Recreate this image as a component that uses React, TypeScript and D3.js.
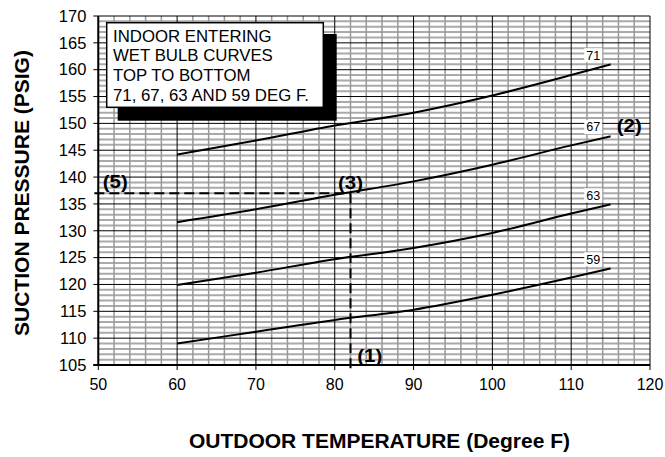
import * as d3 from "d3";

// outdoor temperature (F) where the curves were read
const temps = [60, 70, 80, 90, 100, 110, 115];

// suction pressure (psig) per indoor wet bulb curve
const wb71 = [144.2, 146.8, 149.6, 152.0, 155.2, 159.0, 161.0];
const wb67 = [131.6, 134.0, 136.7, 139.2, 142.3, 145.9, 147.6];
const wb63 = [119.9, 122.2, 124.7, 126.8, 129.6, 133.2, 134.9];
const wb59 = [109.0, 111.2, 113.4, 115.3, 118.1, 121.3, 123.0];

const curveNames = ["71", "67", "63", "59"];
const curveValues = [wb71, wb67, wb63, wb59];

const xTicks = [50, 60, 70, 80, 90, 100, 110, 120];
const yTicks = [105, 110, 115, 120, 125, 130, 135, 140, 145, 150, 155, 160, 165, 170];

const legendLines = [
  "INDOOR ENTERING",
  "WET BULB CURVES",
  "TOP TO BOTTOM",
  "71, 67, 63 AND 59 DEG F.",
];

// worked example: outdoor temp (1) -> curve (3) -> pressure (5)
const exampleTemp = 82;
const examplePsig = 137;

const W = 665, H = 457;
const font = "Arial, 'Liberation Sans', sans-serif";

// the reference text is a touch wider than plain Arial
function WideText({ x, y, sx = 1.05, children, ...rest }: any) {
  return (
    <text transform={`translate(${x},${y}) scale(${sx},1)`} {...rest}>{children}</text>
  );
}

export default function App() {
  const x = d3.scaleLinear().domain([50, 120]).range([98.3, 650]);
  const y = d3.scaleLinear().domain([105, 170]).range([365, 16]);

  const minorX = d3.range(50, 121, 2);
  const minorY = d3.range(105, 171, 1);

  const line = d3.line<[number, number]>()
    .x(d => x(d[0]))
    .y(d => y(d[1]))
    .curve(d3.curveMonotoneX);

  const [x0, x1] = x.range();
  const [yb, yt] = y.range();

  return (
    <svg width={W} height={H} style={{ position: "absolute", left: 0, top: 0, background: "#fff" }}
      fontFamily={font}>
      {/* minor grid */}
      {minorY.filter(v => v % 5 !== 0).map(v => (
        <line key={"hy" + v} x1={x0} x2={x1} y1={y(v)} y2={y(v)} stroke="#aaa" strokeWidth={2} />
      ))}
      {minorX.filter(v => v % 10 !== 0).map(v => (
        <line key={"vx" + v} x1={x(v)} x2={x(v)} y1={yt} y2={yb} stroke="#999" strokeWidth={1.5} />
      ))}
      {/* major grid */}
      {yTicks.map(v => (
        <line key={"my" + v} x1={x0 - 5} x2={x1} y1={y(v)} y2={y(v)} stroke="#000" strokeWidth={1} />
      ))}
      {xTicks.map(v => (
        <line key={"mx" + v} x1={x(v)} x2={x(v)} y1={yt} y2={yb + 5} stroke="#000" strokeWidth={1} />
      ))}
      {/* axes */}
      <line x1={x0} x2={x0} y1={yt} y2={yb} stroke="#000" strokeWidth={2} />
      <line x1={x0 - 5} x2={x1} y1={yb} y2={yb} stroke="#000" strokeWidth={2} />

      {yTicks.map(v => (
        <WideText key={"ty" + v} x={x0 - 12} y={y(v)} sx={1.03} dy="0.36em" textAnchor="end" fontSize={16}>{v}</WideText>
      ))}
      {xTicks.map(v => (
        <WideText key={"tx" + v} x={x(v)} y={389.5} sx={1} textAnchor="middle" fontSize={16}>{v}</WideText>
      ))}

      {/* curves */}
      {curveValues.map((vals, i) => (
        <path key={"c" + i} d={line(temps.map((t, j) => [t, vals[j]]) as [number, number][]) || ""}
          fill="none" stroke="#000" strokeWidth={2} />
      ))}
      {curveValues.map((vals, i) => {
        const cx = x(112.8);
        const cy = y(vals[vals.length - 1] + 1.7);
        return (
          <g key={"l" + i}>
            <rect x={cx - 9} y={cy - 7} width={18} height={14} fill="#fff" />
            <WideText x={cx} y={cy} dy="0.36em" textAnchor="middle" fontSize={12}>{curveNames[i]}</WideText>
          </g>
        );
      })}

      {/* example dashed lines */}
      <line x1={x0 - 4} x2={x(exampleTemp)} y1={y(examplePsig)} y2={y(examplePsig)}
        stroke="#000" strokeWidth={2} strokeDasharray="10,5" />
      <line x1={x(exampleTemp)} x2={x(exampleTemp)} y1={y(examplePsig)} y2={yb + 6}
        stroke="#000" strokeWidth={2} strokeDasharray="10,5" />

      <g fontWeight="bold" fontSize={19}>
        <WideText x={115.3} y={188} sx={1.08} textAnchor="middle">(5)</WideText>
        <WideText x={350.5} y={188.5} sx={1.08} textAnchor="middle">(3)</WideText>
        <WideText x={629.2} y={132} sx={1.08} textAnchor="middle">(2)</WideText>
        <WideText x={369.7} y={362} sx={1.08} textAnchor="middle">(1)</WideText>
      </g>

      {/* legend box */}
      <rect x={117.7} y={34} width={219} height={86.7} fill="#000" />
      <rect x={106.7} y={22.7} width={216.6} height={84.6} fill="#fff" stroke="#000" strokeWidth={1.5} />
      {legendLines.map((t, i) => (
        <WideText key={"lg" + i} x={113} y={41.5 + i * 19.7} fontSize={16}>{t}</WideText>
      ))}

      {/* axis titles */}
      <text x={379.5} y={448} textAnchor="middle" fontWeight="bold" fontSize={21}>
        OUTDOOR TEMPERATURE (Degree F)
      </text>
      <text transform={`translate(29,193) rotate(-90)`} textAnchor="middle" fontWeight="bold" fontSize={21}>
        SUCTION PRESSURE (PSIG)
      </text>
    </svg>
  );
}
